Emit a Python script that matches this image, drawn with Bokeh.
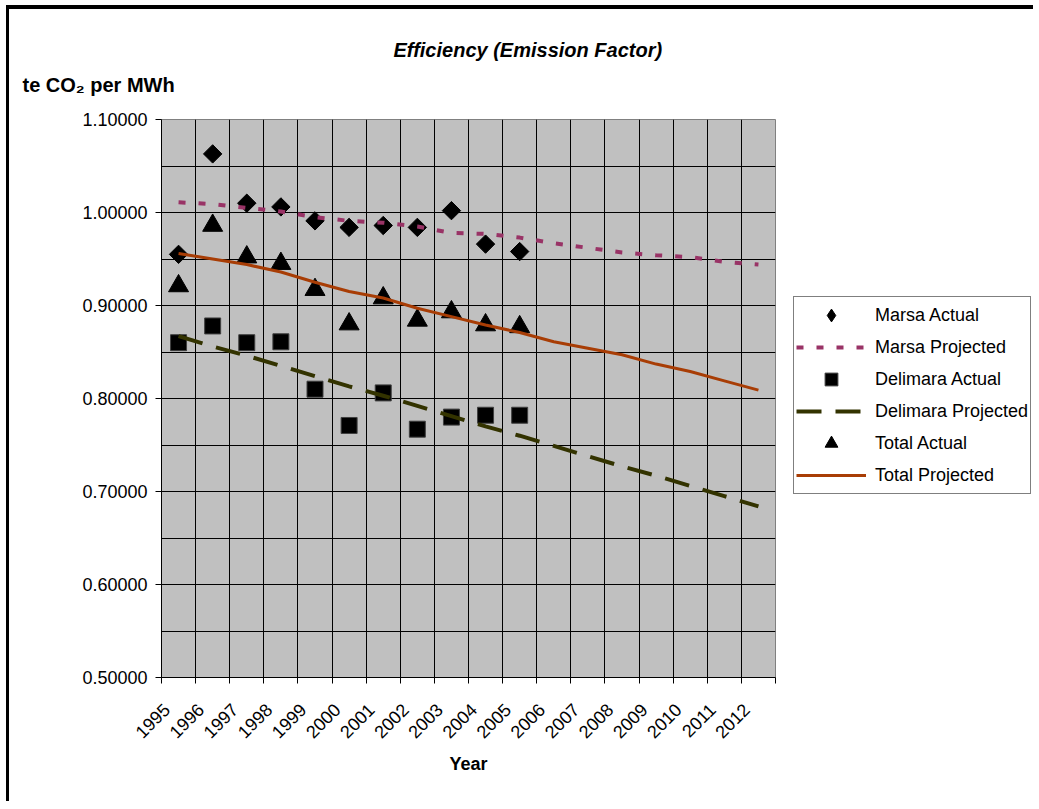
import math
from bokeh.plotting import figure
from bokeh.models import (Range1d, FixedTicker, Legend, LegendItem, Title,
                          NumeralTickFormatter, InlineStyleSheet)
from bokeh.embed import file_html
from bokeh.resources import INLINE

# ---------------- data ----------------
years = ["1995", "1996", "1997", "1998", "1999", "2000", "2001", "2002", "2003",
         "2004", "2005", "2006", "2007", "2008", "2009", "2010", "2011", "2012"]
actual_years = years[:11]

marsa_actual = [0.955, 1.063, 1.010, 1.006, 0.991, 0.984, 0.986, 0.984, 1.002, 0.966, 0.958]
delimara_actual = [0.860, 0.878, 0.860, 0.861, 0.810, 0.771, 0.806, 0.767, 0.780, 0.782, 0.782]
total_actual = [0.921, 0.986, 0.952, 0.945, 0.917, 0.880, 0.908, 0.884, 0.893, 0.879, 0.877]

marsa_projected = [1.011, 1.009, 1.005, 1.001, 0.995, 0.991, 0.989, 0.985, 0.978,
                   0.977, 0.973, 0.967, 0.962, 0.957, 0.954, 0.952, 0.947, 0.944]
delimara_projected = [0.867, 0.856, 0.846, 0.835, 0.824, 0.813, 0.803, 0.792, 0.781,
                      0.770, 0.760, 0.749, 0.738, 0.727, 0.717, 0.706, 0.695, 0.684]
total_projected = [0.956, 0.950, 0.944, 0.936, 0.925, 0.915, 0.908, 0.897, 0.888,
                   0.879, 0.871, 0.861, 0.854, 0.847, 0.837, 0.829, 0.819, 0.809]

y_ticks = [0.5, 0.6, 0.7, 0.8, 0.9, 1.0, 1.1]
y_grid = [0.55, 0.6, 0.65, 0.7, 0.75, 0.8, 0.85, 0.9, 0.95, 1.0, 1.05]

title_text = "Efficiency (Emission Factor)"
y_title = "te CO\u2082 per MWh"
x_title = "Year"

FONT = "Liberation Sans"

# category positions (centre of each category slot)
n = len(years)
x_all = [i + 0.5 for i in range(n)]
x_act = [years.index(y) + 0.5 for y in actual_years]

p = figure(frame_width=614, frame_height=558, output_backend="svg",
           toolbar_location=None,
           x_range=Range1d(0, n), y_range=Range1d(0.5, 1.1),
           min_border_left=161, min_border_right=258,
           min_border_top=119, min_border_bottom=124)

p.background_fill_color = "#C0C0C0"
p.border_fill_color = "white"
p.border_fill_alpha = 0
p.outline_line_color = "#808080"
p.outline_line_width = 1
# outer chart frame (thick black left/top edge) painted as host backgrounds
p.stylesheets = [InlineStyleSheet(css=(
    ":host { background: linear-gradient(#000, #000) 6px 5px / 3px 796px no-repeat, "
    "linear-gradient(#000, #000) 6px 5px / 1027px 4px no-repeat, #fff; }"))]

# grids
p.xgrid.ticker = FixedTicker(ticks=list(range(1, n)))
p.ygrid.ticker = FixedTicker(ticks=y_grid)
p.xgrid.grid_line_color = "black"
p.ygrid.grid_line_color = "black"
p.xgrid.grid_line_width = 1
p.ygrid.grid_line_width = 1

# x axis: labels slightly right of boundary ticks, tick marks via minor ticks
label_pos = [round(i + 0.15, 2) for i in range(n)]
p.xaxis.ticker = FixedTicker(ticks=label_pos, minor_ticks=list(range(0, n + 1)))
p.xaxis.major_label_overrides = {lp: y for lp, y in zip(label_pos, years)}
p.xaxis.major_tick_line_color = None
p.xaxis.major_tick_out = 0
p.xaxis.major_tick_in = 0
p.xaxis.minor_tick_line_color = "black"
p.xaxis.minor_tick_out = 6
p.xaxis.minor_tick_in = 0
p.xaxis.axis_line_color = "black"
p.xaxis.major_label_orientation = math.pi / 4
p.xaxis.major_label_standoff = 23
p.xaxis.major_label_text_font = FONT
p.xaxis.major_label_text_font_size = "18px"
p.xaxis.major_label_text_color = "black"
p.xaxis.axis_label = x_title
p.xaxis.axis_label_text_font = FONT
p.xaxis.axis_label_text_font_size = "18px"
p.xaxis.axis_label_text_font_style = "bold"
p.xaxis.axis_label_text_color = "black"
p.xaxis.axis_label_standoff = 7

# y axis
p.yaxis.ticker = FixedTicker(ticks=y_ticks)
p.yaxis.formatter = NumeralTickFormatter(format="0.00000")
p.yaxis.major_tick_out = 6
p.yaxis.major_tick_in = 0
p.yaxis.minor_tick_line_color = None
p.yaxis.axis_line_color = "black"
p.yaxis.major_tick_line_color = "black"
p.yaxis.major_label_standoff = 8
p.yaxis.major_label_text_font = FONT
p.yaxis.major_label_text_font_size = "18px"
p.yaxis.major_label_text_color = "black"

# series
r_ma = p.scatter(x_act, marsa_actual, marker="square", angle=math.pi / 4, size=13,
                 fill_color="black", line_color="black")
r_mp = p.line(x_all, marsa_projected, line_color="#993366", line_width=4,
              line_dash="7 13")
r_da = p.scatter(x_act, delimara_actual, marker="square", size=16,
                 fill_color="black", line_color="#404040")
r_dp = p.line(x_all, delimara_projected, line_color="#333300", line_width=4,
              line_dash="25 14")
r_ta = p.scatter(x_act, total_actual, marker="triangle", size=20,
                 fill_color="black", line_color="black")
r_tp = p.line(x_all, total_projected, line_color="#A83D05", line_width=3)
# legend-only symbol for the diamond series (legend ignores marker angle)
r_ma_key = p.scatter([float("nan")], [float("nan")], marker="diamond", size=16,
                     fill_color="black", line_color="black")

legend = Legend(items=[
    LegendItem(label="Marsa Actual", renderers=[r_ma_key]),
    LegendItem(label="Marsa Projected", renderers=[r_mp]),
    LegendItem(label="Delimara Actual", renderers=[r_da]),
    LegendItem(label="Delimara Projected", renderers=[r_dp]),
    LegendItem(label="Total Actual", renderers=[r_ta]),
    LegendItem(label="Total Projected", renderers=[r_tp]),
], location=(18, 183))
legend.glyph_width = 70
legend.glyph_height = 32
legend.label_height = 32
legend.spacing = 0
legend.padding = 2
legend.margin = 0
legend.label_standoff = 9
legend.label_text_font = FONT
legend.label_text_font_size = "18px"
legend.label_text_color = "black"
legend.border_line_color = "black"
legend.border_line_width = 1
legend.background_fill_color = "white"
legend.background_fill_alpha = 1
p.add_layout(legend, "right")

# titles (first added is closest to the frame)
t_y = Title(text=y_title, align="left", offset=-139, standoff=48,
            text_font=FONT, text_font_size="20px", text_font_style="bold",
            text_color="black")
t_main = Title(text=title_text, align="left", offset=232, standoff=0,
               text_font=FONT, text_font_size="20px",
               text_font_style="bold italic", text_color="black")
try:
    t_main.standoff = -26
except Exception:
    t_main.standoff = 0
p.add_layout(t_y, "above")
p.add_layout(t_main, "above")

open("out.html", "w").write(file_html(p, INLINE))
